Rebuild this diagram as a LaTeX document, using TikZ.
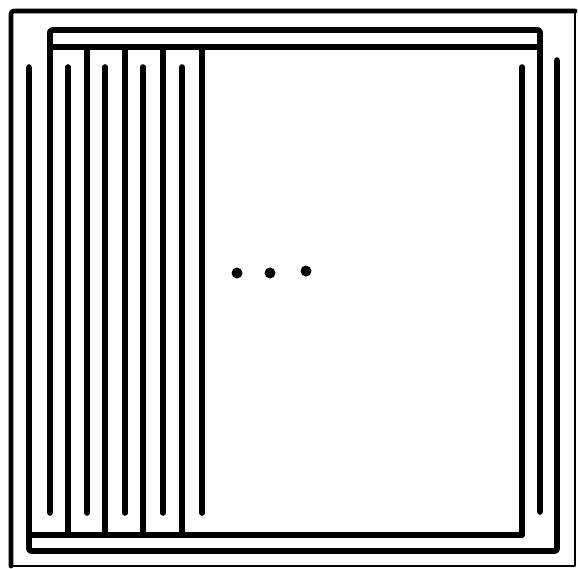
\documentclass[tikz,border=0pt]{standalone}
\begin{document}
\begin{tikzpicture}[x=1pt,y=-1pt,line cap=round,line join=round,
  wire/.style={line width=5.6pt},
  thickframe/.style={line width=4.8pt,rounded corners=3pt},
  thinframe/.style={line width=2.4pt},
  dotmark/.style={fill=black}]
\useasboundingbox (0,0) rectangle (578,568);
\fill[white] (0,0) rectangle (578,568);
% outer frame
\draw[thickframe] (11,566) -- (11,11) -- (575,11);
\draw[thinframe] (575,11) -- (575,566) -- (11,566);
% upper comb electrode
\draw[wire,rounded corners=2pt] (50,513) -- (50,30) -- (540,30) -- (540,512);
\draw[wire] (50,47) -- (540,47);
\foreach \x in {87,125,163,202}
  \draw[wire] (\x,47) -- (\x,513);
% lower comb electrode
\draw[wire,rounded corners=2pt] (29,67) -- (29,551) -- (557,551) -- (557,60);
\draw[wire] (29,535) -- (522,535);
\foreach \x in {68,105,143,182,522}
  \draw[wire] (\x,535) -- (\x,67);
% ellipsis dots
\fill[dotmark] (237,273) circle (5.5pt);
\fill[dotmark] (270,273) circle (5.5pt);
\fill[dotmark] (306,271) circle (5.5pt);
\end{tikzpicture}
\end{document}
